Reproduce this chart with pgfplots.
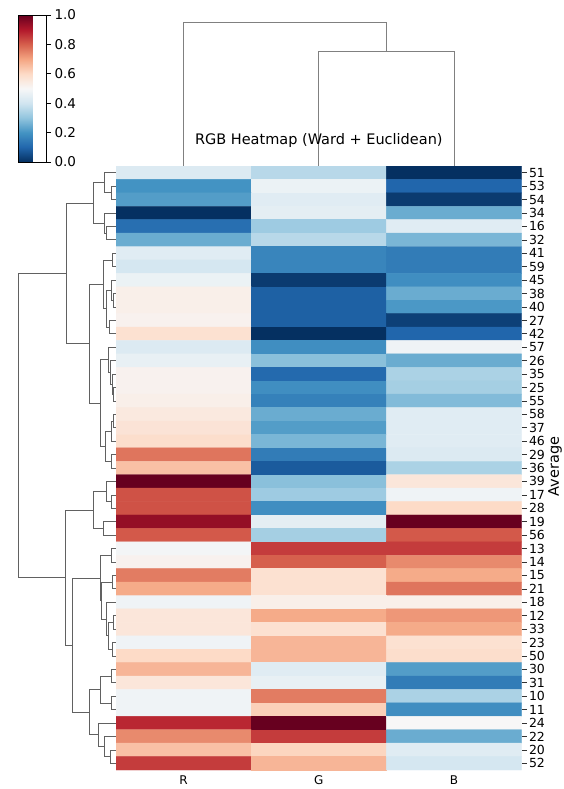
\documentclass[border=0pt]{standalone}
\usepackage{pgfplots}
\pgfplotsset{compat=1.18}
\usepackage{pgfplotstable}
\usepackage{fontspec}
\setmainfont{DejaVu Sans}
\pgfplotsset{
  /pgf/number format/assume math mode=true,
  colormap={RdBur}{rgb255=(5,48,97) rgb255=(33,102,172) rgb255=(67,147,195) rgb255=(146,197,222) rgb255=(209,229,240) rgb255=(247,247,247) rgb255=(253,219,199) rgb255=(244,165,130) rgb255=(214,96,77) rgb255=(178,24,43) rgb255=(103,0,31)},
  dg/.style={draw=black!62, line width=0.7pt, mark=none, forget plot},
}
\pgfplotstableread{
x y c
0 1 0.43
1 1 0.36
2 1 0.00
0 2 0.20
1 2 0.47
2 2 0.10
0 3 0.22
1 3 0.44
2 3 0.02
0 4 0.00
1 4 0.45
2 4 0.25
0 5 0.12
1 5 0.32
2 5 0.44
0 6 0.25
1 6 0.36
2 6 0.27
0 7 0.44
1 7 0.17
2 7 0.15
0 8 0.41
1 8 0.17
2 8 0.15
0 9 0.47
1 9 0.02
2 9 0.19
0 10 0.53
1 10 0.09
2 10 0.25
0 11 0.53
1 11 0.09
2 11 0.21
0 12 0.52
1 12 0.09
2 12 0.03
0 13 0.58
1 13 0.00
2 13 0.10
0 14 0.43
1 14 0.19
2 14 0.48
0 15 0.46
1 15 0.29
2 15 0.25
0 16 0.52
1 16 0.11
2 16 0.34
0 17 0.52
1 17 0.19
2 17 0.33
0 18 0.53
1 18 0.16
2 18 0.28
0 19 0.55
1 19 0.25
2 19 0.44
0 20 0.57
1 20 0.22
2 20 0.44
0 21 0.59
1 21 0.27
2 21 0.44
0 22 0.77
1 22 0.15
2 22 0.43
0 23 0.65
1 23 0.08
2 23 0.34
0 24 1.00
1 24 0.29
2 24 0.56
0 25 0.82
1 25 0.32
2 25 0.48
0 26 0.82
1 26 0.19
2 26 0.60
0 27 0.94
1 27 0.45
2 27 1.00
0 28 0.81
1 28 0.33
2 28 0.81
0 29 0.49
1 29 0.85
2 29 0.85
0 30 0.52
1 30 0.80
2 30 0.74
0 31 0.76
1 31 0.58
2 31 0.69
0 32 0.69
1 32 0.58
2 32 0.77
0 33 0.48
1 33 0.53
2 33 0.53
0 34 0.56
1 34 0.69
2 34 0.72
0 35 0.56
1 35 0.58
2 35 0.69
0 36 0.48
1 36 0.67
2 36 0.58
0 37 0.60
1 37 0.67
2 37 0.59
0 38 0.67
1 38 0.44
2 38 0.22
0 39 0.56
1 39 0.46
2 39 0.15
0 40 0.48
1 40 0.76
2 40 0.34
0 41 0.48
1 41 0.62
2 41 0.19
0 42 0.88
1 42 1.00
2 42 0.50
0 43 0.74
1 43 0.85
2 43 0.25
0 44 0.65
1 44 0.61
2 44 0.44
0 45 0.85
1 45 0.67
2 45 0.41
}\heat
\begin{document}
\begin{tikzpicture}
\path[use as bounding box] (0,0) rectangle (563pt,789pt);
% heatmap
\begin{axis}[
  at={(116pt,19pt)}, anchor=south west, scale only axis,
  width=405.5pt, height=604pt,
  xmin=-0.5, xmax=2.5, ymin=0.5, ymax=45.5, y dir=reverse,
  enlargelimits=false,
  colormap name=RdBur, point meta min=0, point meta max=1,
  axis line style={draw=none},
  xtick={0,1,2}, xticklabels={R,G,B},
  ytick={1,...,45},
  yticklabels={51,53,54,34,16,32,41,59,45,38,40,27,42,57,26,35,25,55,58,37,46,29,36,39,17,28,19,56,13,14,15,21,18,12,33,23,50,30,31,10,11,24,22,20,52},
  xticklabel pos=lower, yticklabel pos=right,
  ytick pos=right, xtick pos=lower,
  tick align=outside, major tick length=5pt,
  xtick style={draw=none},
  ytick style={black!80, line width=0.6pt},
  xticklabel style={font=\fontsize{12}{13}\selectfont, anchor=center, yshift=-5pt},
  yticklabel style={font=\fontsize{12.5}{14}\selectfont, xshift=-1pt},
  colorbar,
  colorbar style={
    at={(parent axis.north west)}, anchor=north west,
    xshift=-106pt, yshift=151pt,
    scale only axis, width=28pt, height=147pt,
    ytick={0,0.2,0.4,0.6,0.8,1},
    yticklabel pos=right, ytick pos=right,
    tick align=outside, major tick length=4.5pt,
    axis line style={black, line width=0.8pt},
    ytick style={black, line width=0.7pt},
    yticklabel style={font=\fontsize{13.5}{15}\selectfont,
      /pgf/number format/fixed, /pgf/number format/fixed zerofill,
      /pgf/number format/precision=1},
  },
]
\addplot[matrix plot*, mesh/cols=3, point meta=explicit] table[x=x, y=y, meta=c] {\heat};
\end{axis}
% left dendrogram
\begin{axis}[
  at={(0pt,19pt)}, anchor=south west, scale only axis,
  width=116pt, height=604pt,
  xmin=0, xmax=116, ymin=0.5, ymax=45.5, y dir=reverse,
  hide axis, clip=false,
]
\def\L{115.5}
\addplot[dg] coordinates {(\L,2)(111.7,2)(111.7,3)(\L,3)};
\addplot[dg] coordinates {(\L,1)(104,1)(104,2.5)(111.7,2.5)};
\addplot[dg] coordinates {(\L,5)(106.7,5)(106.7,6)(\L,6)};
\addplot[dg] coordinates {(\L,4)(104,4)(104,5.5)(106.7,5.5)};
\addplot[dg] coordinates {(104,1.75)(93.3,1.75)(93.3,4.75)(104,4.75)};
\addplot[dg] coordinates {(\L,7)(112.7,7)(112.7,8)(\L,8)};
\addplot[dg] coordinates {(\L,10)(113,10)(113,11)(\L,11)};
\addplot[dg] coordinates {(\L,9)(111,9)(111,10.5)(113,10.5)};
\addplot[dg] coordinates {(\L,12)(109,12)(109,13)(\L,13)};
\addplot[dg] coordinates {(111,9.75)(106.7,9.75)(106.7,12.5)(109,12.5)};
\addplot[dg] coordinates {(112.7,7.5)(103.3,7.5)(103.3,11.125)(106.7,11.125)};
\addplot[dg] coordinates {(\L,17)(113,17)(113,18)(\L,18)};
\addplot[dg] coordinates {(\L,16)(112,16)(112,17.5)(113,17.5)};
\addplot[dg] coordinates {(\L,15)(110.7,15)(110.7,16.75)(112,16.75)};
\addplot[dg] coordinates {(\L,14)(108.3,14)(108.3,15.875)(110.7,15.875)};
\addplot[dg] coordinates {(\L,19)(113,19)(113,20)(\L,20)};
\addplot[dg] coordinates {(113,19.5)(111.7,19.5)(111.7,21)(\L,21)};
\addplot[dg] coordinates {(\L,22)(111.7,22)(111.7,23)(\L,23)};
\addplot[dg] coordinates {(111.7,20.25)(105,20.25)(105,22.5)(111.7,22.5)};
\addplot[dg] coordinates {(108.3,14.9375)(100,14.9375)(100,21.375)(105,21.375)};
\addplot[dg] coordinates {(103.3,9.3125)(89.3,9.3125)(89.3,18.156)(100,18.156)};
\addplot[dg] coordinates {(93.3,3.25)(66,3.25)(66,13.734)(89.3,13.734)};
\addplot[dg] coordinates {(\L,25)(111,25)(111,26)(\L,26)};
\addplot[dg] coordinates {(\L,24)(106,24)(106,25.5)(111,25.5)};
\addplot[dg] coordinates {(\L,27)(103.3,27)(103.3,28)(\L,28)};
\addplot[dg] coordinates {(106,24.75)(93.3,24.75)(93.3,27.5)(103.3,27.5)};
\addplot[dg] coordinates {(\L,29)(111.7,29)(111.7,30)(\L,30)};
\addplot[dg] coordinates {(\L,31)(112.7,31)(112.7,32)(\L,32)};
\addplot[dg] coordinates {(\L,34)(113,34)(113,35)(\L,35)};
\addplot[dg] coordinates {(\L,36)(112,36)(112,37)(\L,37)};
\addplot[dg] coordinates {(113,34.5)(108.3,34.5)(108.3,36.5)(112,36.5)};
\addplot[dg] coordinates {(\L,33)(106,33)(106,35.5)(108.3,35.5)};
\addplot[dg] coordinates {(112.7,31.5)(101.7,31.5)(101.7,34.25)(106,34.25)};
\addplot[dg] coordinates {(111.7,29.5)(100,29.5)(100,32.875)(101.7,32.875)};
\addplot[dg] coordinates {(\L,38)(111.7,38)(111.7,39)(\L,39)};
\addplot[dg] coordinates {(\L,40)(111,40)(111,41)(\L,41)};
\addplot[dg] coordinates {(111.7,38.5)(100,38.5)(100,40.5)(111,40.5)};
\addplot[dg] coordinates {(\L,44)(110,44)(110,45)(\L,45)};
\addplot[dg] coordinates {(\L,43)(104.7,43)(104.7,44.5)(110,44.5)};
\addplot[dg] coordinates {(\L,42)(98.3,42)(98.3,43.75)(104.7,43.75)};
\addplot[dg] coordinates {(100,39.5)(89.3,39.5)(89.3,42.875)(98.3,42.875)};
\addplot[dg] coordinates {(100,31.1875)(72.7,31.1875)(72.7,41.1875)(89.3,41.1875)};
\addplot[dg] coordinates {(93.3,26.125)(65,26.125)(65,36.1875)(72.7,36.1875)};
\addplot[dg] coordinates {(66,8.492)(18.3,8.492)(18.3,31.156)(65,31.156)};
\end{axis}
% top dendrogram
\begin{axis}[
  at={(116pt,623pt)}, anchor=south west, scale only axis,
  width=405.5pt, height=144pt,
  xmin=-0.5, xmax=2.5, ymin=0, ymax=144,
  hide axis, clip=false,
]
\addplot[dg, draw=black!50] coordinates {(1,0)(1,115)(2,115)(2,0)};
\addplot[dg, draw=black!50] coordinates {(0,0)(0,144)(1.5,144)(1.5,115)};
\end{axis}
\node[font=\fontsize{14.5}{16}\selectfont] at (318.8pt,648.5pt) {RGB Heatmap (Ward + Euclidean)};
\node[font=\fontsize{14.5}{16}\selectfont, rotate=90] at (555pt,322.5pt) {Average};
\end{tikzpicture}
\end{document}
